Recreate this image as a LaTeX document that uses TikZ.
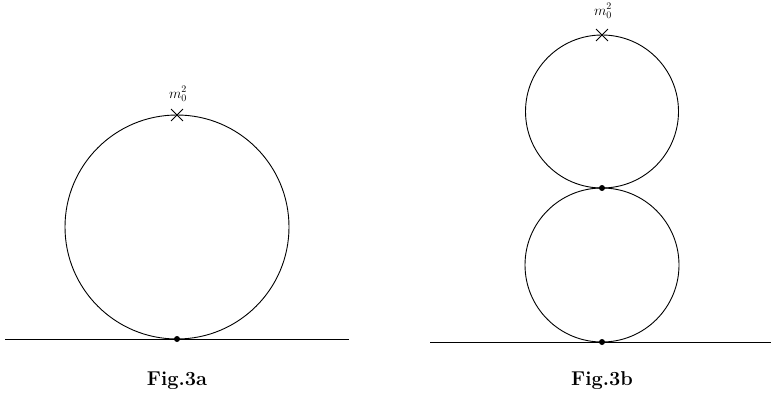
\documentclass[tikz,border=0pt]{standalone}
\usetikzlibrary{shapes.misc}
\begin{document}
\begin{tikzpicture}[x=1pt,y=-1pt,
  lw/.style={line width=0.9pt},
  vtx/.style={circle,fill=black,inner sep=0pt,minimum size=6pt},
  lbl/.style={font=\fontsize{14.5}{16}\selectfont,inner sep=0pt},
  figcaption/.style={font=\fontsize{20}{22}\selectfont\bfseries,inner sep=0pt},
  crossmk/.style={cross out,draw,lw,minimum size=11pt,inner sep=0pt}]
\useasboundingbox (0,0) rectangle (771,404);
% Fig 3a
\coordinate (ac) at (177,227);
\draw[lw] (ac) circle[radius=112];
\coordinate (aL) at (5,339);
\coordinate (aR) at (349,339);
\draw[lw] (aL) -- (aR);
\node[vtx] (av) at (177,339) {};
\node[crossmk] (ax) at (177,115) {};
\node[lbl] (am) at (178,94) {$m_0^2$};
\node[figcaption] (acap) at (177,381) {Fig.3a};
% Fig 3b
\coordinate (bc1) at (602,111.5);
\coordinate (bc2) at (602,265);
\draw[lw] (bc1) circle[radius=76.5];
\draw[lw] (bc2) circle[radius=77];
\coordinate (bL) at (430,342);
\coordinate (bR) at (771,342);
\draw[lw] (bL) -- (bR);
\node[vtx] (bv1) at (602,188) {};
\node[vtx] (bv2) at (602,342) {};
\node[crossmk] (bx) at (602,35) {};
\node[lbl] (bm) at (603,11) {$m_0^2$};
\node[figcaption] (bcap) at (602,381) {Fig.3b};
\end{tikzpicture}
\end{document}
